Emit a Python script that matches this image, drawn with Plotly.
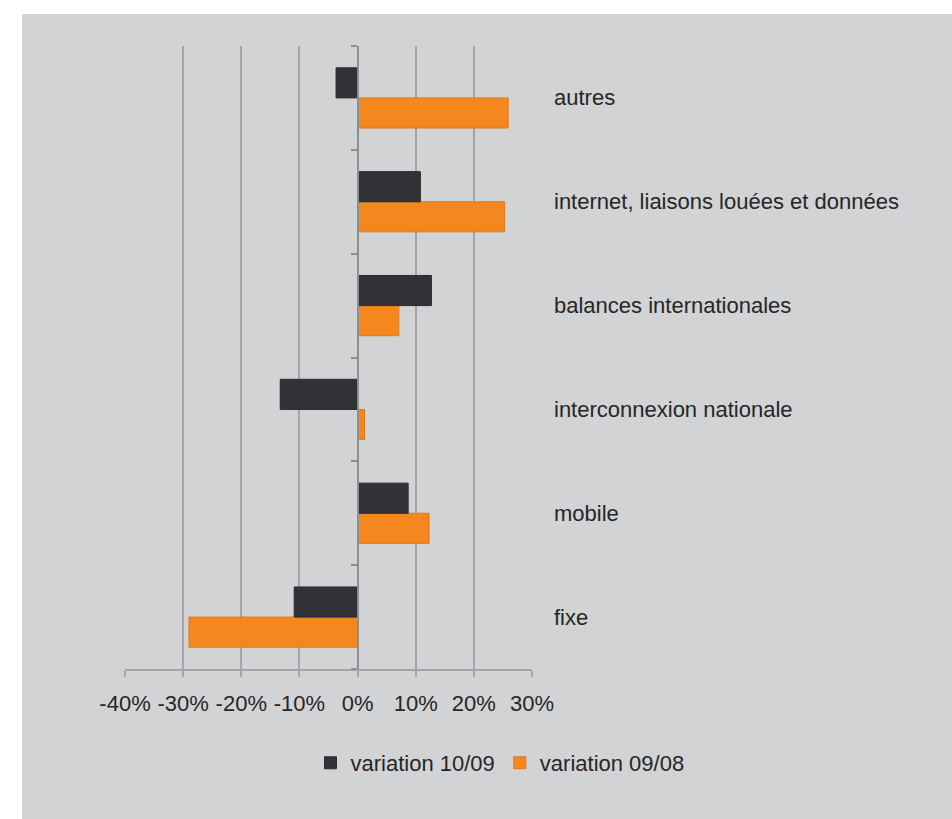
import plotly.graph_objects as go

categories = ["fixe", "mobile", "interconnexion nationale", "balances internationales",
              "internet, liaisons louées et données", "autres"]
var_10_09 = [-10.9, 8.7, -13.3, 12.7, 10.8, -3.7]
var_09_08 = [-29.0, 12.3, 1.2, 7.1, 25.3, 25.9]
x_ticks = [-40, -30, -20, -10, 0, 10, 20, 30]
x_tick_labels = ["-40%", "-30%", "-20%", "-10%", "0%", "10%", "20%", "30%"]

W, H = 952, 819
L, R, T, B = 125, 420, 46, 150
PW, PH = W - L - R, H - T - B

def px_x(p):
    return (p - L) / PW

def px_y(p):
    return (H - B - p) / PH

BG = "#d2d3d5"
TXT = "#262626"
GRID = "#a3a5a8"
FONT = "Liberation Sans, Arial, sans-serif"

fig = go.Figure()
fig.add_trace(go.Bar(
    y=categories, x=var_09_08, orientation="h", name="variation 09/08",
    marker=dict(color="#f5871f", line=dict(width=1, color="#e07a18")), legendrank=2,
))
fig.add_trace(go.Bar(
    y=categories, x=var_10_09, orientation="h", name="variation 10/09",
    marker=dict(color="#313236", line=dict(width=1, color="#2a2b2e")), legendrank=1,
))

for c in categories:
    fig.add_annotation(
        x=1, xref="paper", y=c, yref="y", text=c, showarrow=False,
        xanchor="left", yanchor="middle", xshift=20,
        font=dict(family=FONT, size=22, color=TXT),
    )

# white surround outside gray panel
fig.add_shape(type="rect", xref="paper", yref="paper",
              x0=px_x(-5), x1=px_x(22), y0=px_y(H + 5), y1=px_y(-5),
              fillcolor="white", line=dict(width=0), layer="below")
fig.add_shape(type="rect", xref="paper", yref="paper",
              x0=px_x(-5), x1=px_x(W + 5), y0=px_y(14), y1=px_y(-5),
              fillcolor="white", line=dict(width=0), layer="below")

fig.update_layout(
    width=W, height=H,
    margin=dict(l=L, r=R, t=T, b=B, pad=0),
    paper_bgcolor=BG, plot_bgcolor=BG,
    barmode="group", bargap=0.42, bargroupgap=0,
    font=dict(family=FONT, size=22, color=TXT),
    showlegend=True,
    legend=dict(
        orientation="h", x=px_x(500), xanchor="center", y=px_y(763), yanchor="middle",
        font=dict(family=FONT, size=22, color=TXT), bgcolor="rgba(0,0,0,0)",
        itemwidth=30, traceorder="normal",
    ),
    xaxis=dict(
        range=[-40, 30], tickvals=x_ticks, ticktext=x_tick_labels,
        showgrid=True, gridcolor=GRID, gridwidth=1.5,
        zeroline=False, showline=True, linecolor=GRID, linewidth=1.5,
        ticks="outside", ticklen=6, tickcolor=GRID, tickwidth=1.5,
        ticklabelstandoff=8,
        tickfont=dict(family=FONT, size=22, color=TXT),
        fixedrange=True,
    ),
    yaxis=dict(
        type="category", categoryorder="array", categoryarray=categories,
        anchor="free", position=4 / 7, side="left",
        showticklabels=False, showgrid=False, zeroline=False,
        showline=True, linecolor="#8c8e92", linewidth=1.5,
        ticks="outside", ticklen=6, tickcolor="#8c8e92", tickwidth=1.5,
        tickson="boundaries", fixedrange=True,
    ),
)

fig.write_html(
    "out.html",
    config={"displayModeBar": False},
    post_script="document.body.style.margin='0';document.body.style.overflow='hidden';",
)
